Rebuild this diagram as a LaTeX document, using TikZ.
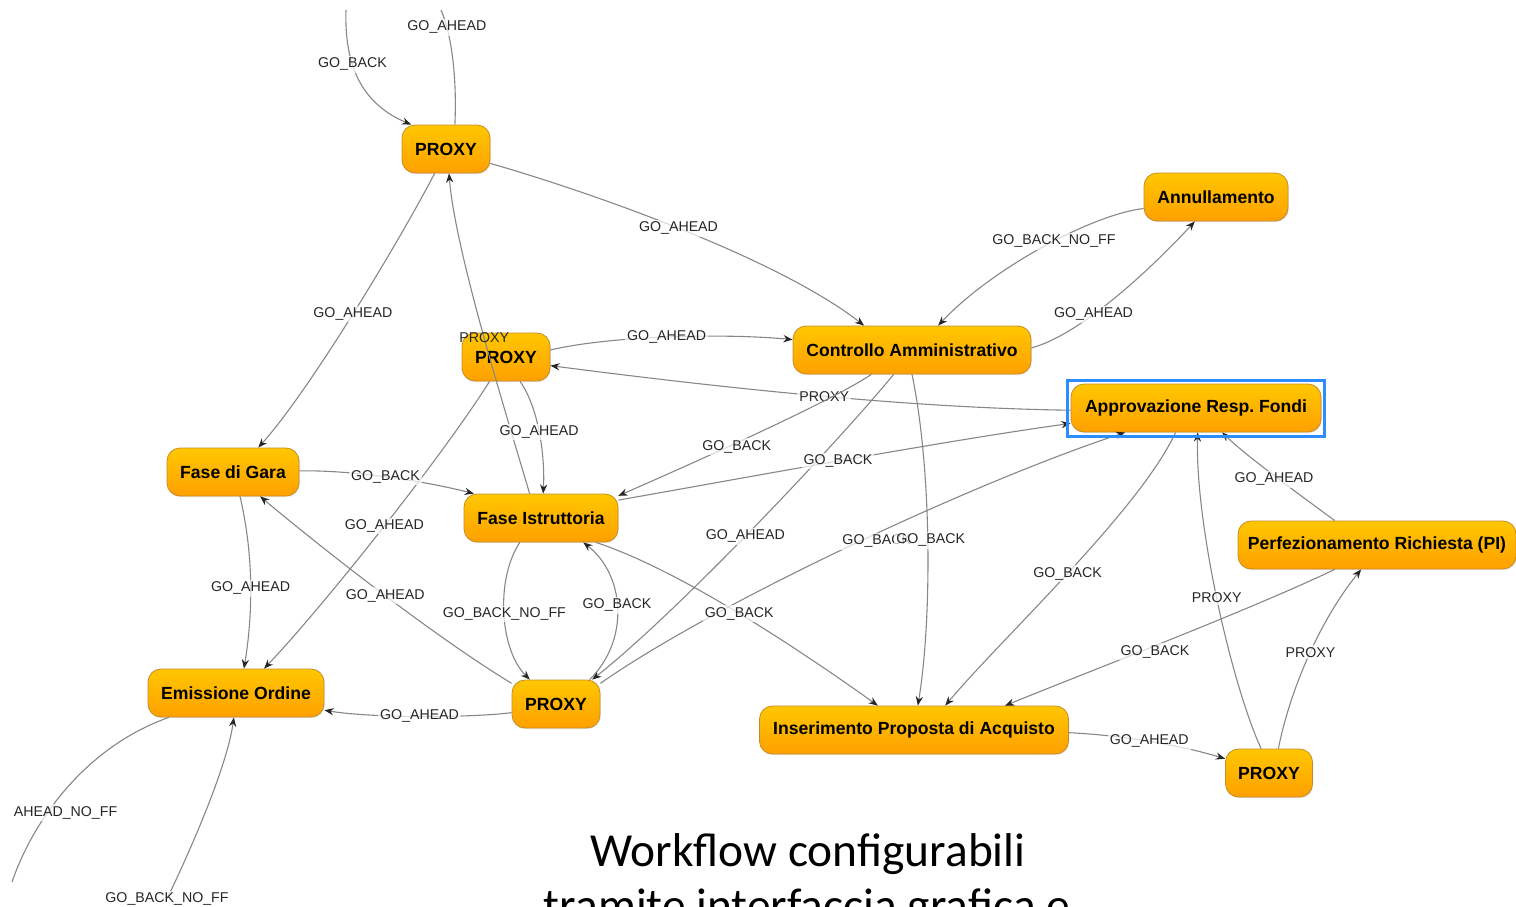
\documentclass[tikz,border=0pt]{standalone}
\usepackage{fontspec}
\setmainfont{Liberation Sans}
\newfontfamily\carlito{Carlito}
\usetikzlibrary{arrows.meta,calc,shadows}
\definecolor{nodetop}{RGB}{255,199,0}
\definecolor{nodebot}{RGB}{255,160,0}
\definecolor{nodeborder}{RGB}{196,140,40}
\definecolor{linegray}{RGB}{135,135,135}
\definecolor{selblue}{RGB}{45,140,255}
\frenchspacing
\begin{document}
\begin{tikzpicture}[x=0.5pt,y=-0.5pt,
  state/.style={rounded corners=6.5pt, top color=nodetop, bottom color=nodebot,
    draw=nodeborder, line width=0.4pt, minimum height=24pt, inner sep=0pt,
    font=\fontsize{8.8}{10}\selectfont\bfseries, text=black,
    drop shadow={opacity=0.18, shadow xshift=0.4pt, shadow yshift=-0.6pt}},
  conn/.style={draw=linegray, line width=0.55pt,
    -{Stealth[length=4.6pt,width=3.6pt,color=black!85]}},
  plain/.style={draw=linegray, line width=0.55pt},
  lbl/.style={font=\fontsize{7.1}{8}\selectfont, text=black!85, fill=white,
    fill opacity=0.7, text opacity=1, inner sep=1pt},
  lblnf/.style={font=\fontsize{7.1}{8}\selectfont, text=black!85, inner sep=1pt},
]
\useasboundingbox (0,0) rectangle (1516,906);

% nodes
\node[state, minimum width=44pt]    (P1)  at (446,149) {PROXY};
\node[state, minimum width=72pt]    (Ann) at (1216,197) {Annullamento};
\node[state, minimum width=44pt]    (P2)  at (506,357) {PROXY};
\node[state, minimum width=119pt]   (CA)  at (912,350) {Controllo Amministrativo};
\node[state, minimum width=125pt]   (ARF) at (1196,408) {Approvazione Resp. Fondi};
\node[state, minimum width=66pt]    (FG)  at (233,472) {Fase di Gara};
\node[state, minimum width=77pt]    (FI)  at (541,518) {Fase Istruttoria};
\node[state, minimum width=139pt]   (PI)  at (1377,545) {Perfezionamento Richiesta (PI)};
\node[state, minimum width=88pt]    (EO)  at (236,693) {Emissione Ordine};
\node[state, minimum width=44pt]    (P3)  at (556,704) {PROXY};
\node[state, minimum width=154.5pt] (IPA) at (914,730) {Inserimento Proposta di Acquisto};
\node[state, minimum width=43.5pt]  (P4)  at (1269,773) {PROXY};

\coordinate (c1) at (346,10);
\coordinate (c2) at (441,10);
\coordinate (c3) at (12,882);
\coordinate (c4) at (167,899);

% connectors
\draw[conn] (c1) .. controls (344,70) and (365,105) .. (P1.145) node[lbl,pos=0.35]{GO\_BACK};
\draw[plain] (P1.70) .. controls (457,80) and (452,35) .. (c2) node[lbl,pos=0.8]{GO\_AHEAD};
\draw[conn] (P1.342) .. controls (600,195) and (780,260) .. (CA.153) node[lbl,pos=0.48]{GO\_AHEAD};
\draw[conn] (P1.245) .. controls (400,240) and (310,390) .. (FG.44) node[lbl,pos=0.5]{GO\_AHEAD};
\draw[conn] (FI.115) .. controls (505,410) and (455,250) .. (P1.277) node[lblnf,pos=0.48]{PROXY};
\draw[conn] (P2.9) .. controls (610,336) and (720,333) .. (CA.175) node[lbl,pos=0.5]{GO\_AHEAD};
\draw[conn] (ARF.181) .. controls (900,408) and (700,385) .. (P2.349) node[lbl,pos=0.46]{PROXY};
\draw[conn] (P2.300) .. controls (540,410) and (545,460) .. (FI.85) node[lbl,pos=0.47]{GO\_AHEAD};
\draw[conn] (P2.236) .. controls (440,460) and (320,610) .. (EO.41) node[lbl,pos=0.48]{GO\_AHEAD};
\draw[conn] (FG.1) .. controls (350,470) and (420,480) .. (FI.160) node[lbl,pos=0.5]{GO\_BACK};
\draw[conn] (FG.286) .. controls (255,560) and (252,620) .. (EO.72) node[lbl,pos=0.5]{GO\_AHEAD};
\draw[conn] (P3.155) .. controls (440,640) and (330,555) .. (FG.318) node[lbl,pos=0.5]{GO\_AHEAD};
\draw[conn] (CA.211) .. controls (830,402) and (700,460) .. (FI.16) node[lbl,pos=0.58,yshift=-2pt]{GO\_BACK};
\draw[conn] (CA.233) .. controls (840,440) and (680,610) .. (P3.34) node[lbl,pos=0.53]{GO\_AHEAD};
\draw[conn] (FI.13) .. controls (760,475) and (950,440) .. (ARF.187) node[lbl,pos=0.47]{GO\_BACK};
\draw[conn] (P3.25) .. controls (720,600) and (980,480) .. (ARF.199) node[lbl,pos=0.54,yshift=-4pt]{GO\_BACK};
\draw[conn] (FI.229) .. controls (495,580) and (500,650) .. (P3.137) node[lbl,pos=0.5]{GO\_BACK\_NO\_FF};
\draw[conn] (P3.36) .. controls (630,640) and (625,575) .. (FI.330) node[lbl,pos=0.52]{GO\_BACK};
\draw[conn] (FI.336) .. controls (680,570) and (800,650) .. (IPA.146) node[lbl,pos=0.5]{GO\_BACK};
\draw[conn] (CA.270) .. controls (932,470) and (932,620) .. (IPA.81) node[lbl,pos=0.49,xshift=1.5pt]{GO\_BACK};
\draw[conn] (ARF.230) .. controls (1140,510) and (1000,640) .. (IPA.38) node[lbl,pos=0.5]{GO\_BACK};
\draw[conn] (PI.210) .. controls (1250,610) and (1080,675) .. (IPA.15) node[lbl,pos=0.53,yshift=-3pt]{GO\_BACK};
\draw[conn] (IPA.359) .. controls (1120,735) and (1180,745) .. (P4.162) node[lbl,pos=0.5]{GO\_AHEAD};
\draw[conn] (P4.108) .. controls (1230,680) and (1195,520) .. (ARF.274) node[lbl,pos=0.5]{PROXY};
\draw[conn] (P4.69) .. controls (1290,690) and (1320,620) .. (PI.237) node[lbl,pos=0.52]{PROXY};
\draw[conn] (PI.150) .. controls (1300,495) and (1245,455) .. (ARF.317) node[lbl,pos=0.5,yshift=-2pt]{GO\_AHEAD};
\draw[conn] (CA.1) .. controls (1080,335) and (1150,270) .. (Ann.229) node[lbl,pos=0.38]{GO\_AHEAD};
\draw[conn] (Ann.189) .. controls (1090,215) and (990,270) .. (CA.43) node[lbl,pos=0.44]{GO\_BACK\_NO\_FF};
\draw[conn] (P3.191) .. controls (470,718) and (370,718) .. (EO.349) node[lbl,pos=0.5]{GO\_AHEAD};
\draw[plain] (EO.200) .. controls (90,745) and (35,815) .. (c3) node[lbl,pos=0.65,xshift=9pt]{AHEAD\_NO\_FF};
\draw[conn] (c4) .. controls (200,830) and (228,760) .. (EO.265) node[lbl,pos=0]{GO\_BACK\_NO\_FF};

% selection highlight
\draw[selblue, line width=1.3pt] ($(ARF.north west)+(-3,-3)$) rectangle ($(ARF.south east)+(3,4)$);

% slide text
\node[font=\carlito\fontsize{23.7}{28}\selectfont, anchor=base, inner sep=0pt] (t1) at (808,866) {Workflow configurabili};
\node[font=\carlito\fontsize{23.7}{28}\selectfont, anchor=base, inner sep=0pt] (t2) at (807,921) {tramite interfaccia grafica e};
\end{tikzpicture}
\end{document}
